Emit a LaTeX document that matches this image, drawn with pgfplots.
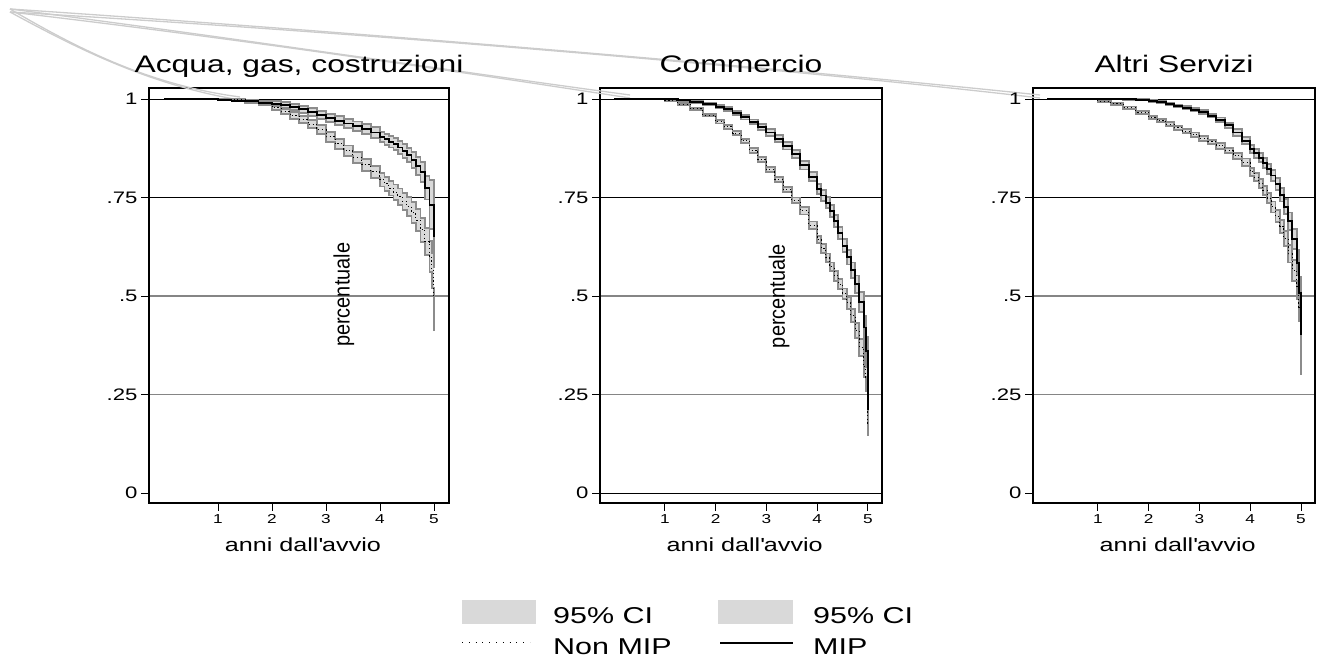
\documentclass[border=0pt]{standalone}
\usepackage{fontspec}
\setmainfont{Liberation Sans}[FakeStretch=1.33]
\newfontfamily\plainfont{Liberation Sans}
\usepackage{pgfplots}
\usepackage{pgfplotstable}
\pgfplotsset{compat=1.18}
\usepgfplotslibrary{fillbetween}

\definecolor{bandfill}{HTML}{D9D9D9}
\definecolor{bandline}{HTML}{8C8C8C}
\definecolor{gridgray}{HTML}{858585}
\definecolor{artline}{HTML}{CCCCCC}

% m = MIP, n = Non MIP; l/h = lower/upper 95% CI
\pgfplotstableread{
x m ml mh n nl nh
0 1 1 1 1 1 1
0.5 1 1 1 1 1 1
1 0.998 0.997 0.999 0.999 0.998 1
1.25 0.996 0.994 0.998 0.998 0.996 1
1.5 0.994 0.991 0.997 0.995 0.992 0.998
1.75 0.991 0.987 0.995 0.989 0.985 0.993
2 0.988 0.982 0.994 0.978 0.972 0.984
2.1667 0.985 0.978 0.992 0.968 0.961 0.975
2.3333 0.980 0.972 0.988 0.958 0.950 0.966
2.5 0.974 0.965 0.983 0.948 0.939 0.957
2.6667 0.967 0.957 0.977 0.936 0.926 0.946
2.8333 0.960 0.950 0.970 0.922 0.911 0.933
3 0.952 0.941 0.963 0.904 0.892 0.916
3.1667 0.945 0.933 0.957 0.886 0.873 0.899
3.3333 0.938 0.926 0.950 0.869 0.856 0.882
3.5 0.931 0.919 0.943 0.851 0.837 0.865
3.6667 0.924 0.911 0.937 0.833 0.818 0.848
3.8333 0.915 0.902 0.928 0.815 0.799 0.831
4 0.904 0.891 0.917 0.795 0.778 0.812
4.0833 0.898 0.884 0.912 0.785 0.767 0.803
4.1667 0.892 0.877 0.907 0.774 0.755 0.793
4.25 0.885 0.870 0.900 0.763 0.743 0.783
4.3333 0.877 0.861 0.893 0.752 0.731 0.773
4.4167 0.868 0.851 0.885 0.740 0.718 0.762
4.5 0.858 0.840 0.876 0.727 0.703 0.751
4.5833 0.846 0.826 0.866 0.712 0.686 0.738
4.6667 0.830 0.808 0.852 0.692 0.664 0.720
4.75 0.815 0.790 0.840 0.668 0.637 0.699
4.8333 0.775 0.745 0.805 0.638 0.603 0.673
4.9167 0.731 0.670 0.795 0.600 0.560 0.640
4.9583 0.731 0.670 0.795 0.566 0.520 0.610
5 0.650 0.600 0.700 0.500 0.410 0.570
}\acqua

\pgfplotstableread{
x m ml mh n nl nh
0 1 1 1 1 1 1
0.5 1 1 1 1 1 1
1 1 1 1 0.997 0.996 0.998
1.25 0.997 0.996 0.998 0.987 0.985 0.989
1.5 0.993 0.991 0.995 0.975 0.972 0.978
1.75 0.987 0.984 0.990 0.959 0.956 0.962
2 0.980 0.976 0.984 0.942 0.938 0.946
2.1667 0.974 0.969 0.979 0.929 0.924 0.934
2.3333 0.965 0.960 0.970 0.913 0.908 0.918
2.5 0.954 0.948 0.960 0.894 0.889 0.899
2.6667 0.942 0.936 0.948 0.870 0.864 0.876
2.8333 0.929 0.922 0.936 0.846 0.840 0.852
3 0.915 0.907 0.923 0.821 0.815 0.827
3.1667 0.899 0.890 0.908 0.796 0.789 0.803
3.3333 0.881 0.872 0.890 0.770 0.763 0.777
3.5 0.860 0.850 0.870 0.743 0.736 0.750
3.6667 0.832 0.821 0.843 0.716 0.707 0.725
3.8333 0.803 0.791 0.815 0.680 0.671 0.689
4 0.771 0.758 0.784 0.643 0.634 0.652
4.0833 0.755 0.742 0.768 0.620 0.609 0.631
4.1667 0.737 0.723 0.751 0.597 0.586 0.608
4.25 0.715 0.700 0.730 0.574 0.563 0.585
4.3333 0.690 0.675 0.705 0.551 0.538 0.564
4.4167 0.660 0.644 0.676 0.530 0.517 0.543
4.5 0.628 0.611 0.645 0.506 0.493 0.519
4.5833 0.598 0.580 0.616 0.483 0.468 0.498
4.6667 0.565 0.545 0.585 0.450 0.433 0.467
4.75 0.530 0.508 0.552 0.412 0.393 0.431
4.8333 0.485 0.460 0.510 0.370 0.348 0.392
4.9167 0.420 0.390 0.450 0.320 0.294 0.346
4.9583 0.360 0.325 0.395 0.290 0.260 0.320
5 0.210 0.160 0.270 0.170 0.145 0.220
}\commercio

\pgfplotstableread{
x m ml mh n nl nh
0 1 1 1 1 1 1
0.5 1 1 1 1 1 1
1 1 1 1 0.994 0.992 0.996
1.25 1 1 1 0.988 0.985 0.991
1.5 0.999 0.998 1 0.978 0.975 0.981
1.75 0.998 0.997 0.999 0.966 0.962 0.970
2 0.995 0.993 0.997 0.953 0.949 0.957
2.1667 0.992 0.990 0.994 0.945 0.941 0.949
2.3333 0.988 0.985 0.991 0.936 0.931 0.941
2.5 0.983 0.980 0.986 0.927 0.922 0.932
2.6667 0.978 0.974 0.982 0.918 0.913 0.923
2.8333 0.973 0.969 0.977 0.909 0.903 0.915
3 0.967 0.962 0.972 0.900 0.894 0.906
3.1667 0.958 0.953 0.963 0.891 0.885 0.897
3.3333 0.947 0.941 0.953 0.881 0.874 0.888
3.5 0.933 0.926 0.940 0.869 0.862 0.876
3.6667 0.915 0.907 0.923 0.856 0.848 0.864
3.8333 0.894 0.885 0.903 0.840 0.831 0.849
4 0.873 0.863 0.883 0.815 0.805 0.825
4.0833 0.862 0.851 0.873 0.802 0.791 0.813
4.1667 0.851 0.840 0.862 0.786 0.775 0.797
4.25 0.838 0.826 0.850 0.768 0.756 0.780
4.3333 0.823 0.810 0.836 0.748 0.735 0.761
4.4167 0.806 0.792 0.820 0.726 0.712 0.740
4.5 0.785 0.770 0.800 0.703 0.688 0.718
4.5833 0.757 0.740 0.774 0.677 0.660 0.694
4.6667 0.727 0.708 0.746 0.645 0.626 0.664
4.75 0.690 0.668 0.712 0.607 0.585 0.629
4.8333 0.645 0.619 0.671 0.565 0.539 0.591
4.9167 0.584 0.552 0.616 0.523 0.493 0.553
4.9583 0.508 0.468 0.548 0.472 0.436 0.508
5 0.400 0.300 0.470 0.440 0.400 0.490
}\servizi

\pgfplotsset{
  kmpanel/.style={
    scale only axis, height=415bp,
    xmin=-0.278, xmax=5.278, ymin=-0.0254, ymax=1.028,
    xtick={1,2,3,4,5}, xticklabels={1,2,3,4,5},
    ytick={0,0.25,0.5,0.75,1}, yticklabels={0,.25,.5,.75,1},
    minor ytick={0.25,0.5}, yminorgrids,
    minor grid style={gridgray, line width=1.2bp},
    minor tick length=0pt,
    extra y ticks={0.75,1}, extra y tick labels={},
    extra tick style={major grid style={black, line width=0.8bp}, ymajorgrids},
    tick align=outside, xtick pos=bottom, ytick pos=left,
    major tick length=8bp,
    tick style={black, line width=0.8bp},
    axis line style={line width=1.2bp},
    xticklabel style={font=\fontsize{13}{13}\selectfont},
    yticklabel style={font=\fontsize{16.7}{17}\selectfont},
    xlabel={anni dall\textquotesingle avvio},
    xlabel style={font=\fontsize{19}{19}\selectfont,
      at={(axis description cs:0.513,-0.118)}, anchor=base},
    title style={font=\fontsize{24}{24}\selectfont,
      at={(axis description cs:0.5,1)}, anchor=base, yshift=10bp},
  },
}

\newcommand{\kmcurves}[1]{%
  \addplot[const plot, draw=none, name path=nh, forget plot] table[x=x,y=nh] {#1};
  \addplot[const plot, draw=none, name path=nl, forget plot] table[x=x,y=nl] {#1};
  \addplot[fill=bandfill, draw=none, forget plot] fill between[of=nh and nl];
  \addplot[const plot, draw=none, name path=mh, forget plot] table[x=x,y=mh] {#1};
  \addplot[const plot, draw=none, name path=ml, forget plot] table[x=x,y=ml] {#1};
  \addplot[fill=bandfill, draw=none, forget plot] fill between[of=mh and ml];
  \addplot[const plot, bandline, line width=1.9bp] table[x=x,y=nh] {#1};
  \addplot[const plot, bandline, line width=1.9bp] table[x=x,y=nl] {#1};
  \addplot[const plot, bandline, line width=1.9bp] table[x=x,y=mh] {#1};
  \addplot[const plot, bandline, line width=1.9bp] table[x=x,y=ml] {#1};
  \addplot[const plot, black, line width=1bp, dash pattern=on 1.2bp off 2.5bp] table[x=x,y=n] {#1};
  \addplot[const plot, black, line width=1.9bp] table[x=x,y=m] {#1};
}

\begin{document}
\begin{tikzpicture}

% stray grey strokes of the source picture
\begin{scope}[artline, line width=1.3bp]
  \foreach \d in {0bp,3bp}{
    \draw ([yshift=\d]10bp,645bp) .. controls (400bp,622bp) and (800bp,587bp) .. ([yshift=\d]1040bp,559bp);
    \draw ([yshift=\d]10bp,645bp) .. controls (250bp,617bp) and (480bp,582bp) .. ([yshift=\d]630bp,559bp);
    \draw ([yshift=\d]10bp,645bp) .. controls (80bp,607bp) and (150bp,572bp) .. ([yshift=\d]240bp,557bp);
  }
\end{scope}

\begin{axis}[kmpanel, at={(149bp,154bp)}, anchor=south west, width=300bp,
  title={Acqua, gas, costruzioni}]
  \kmcurves{\acqua}
  \node[rotate=90, font=\plainfont\fontsize{20}{20}\selectfont] at (axis cs:3.33,0.503) {\scalebox{1}[1.12]{percentuale}};
\end{axis}

\begin{axis}[kmpanel, at={(600bp,154bp)}, anchor=south west, width=282bp,
  title={Commercio}, extra y ticks={0,0.75,1}]
  \kmcurves{\commercio}
  \node[rotate=90, font=\plainfont\fontsize{20}{20}\selectfont] at (axis cs:3.25,0.5) {\scalebox{1}[1.12]{percentuale}};
\end{axis}

\begin{axis}[kmpanel, at={(1033bp,154bp)}, anchor=south west, width=282bp,
  title={Altri Servizi}]
  \kmcurves{\servizi}
\end{axis}

% legend
\fill[bandfill] (462bp,33bp) rectangle (536bp,57bp);
\fill[bandfill] (718bp,33bp) rectangle (793bp,57bp);
\draw[black, line width=1bp, dash pattern=on 1bp off 5.8bp] (462bp,14bp) -- (530bp,14bp);
\draw[black, line width=1.6bp] (720bp,14bp) -- (793bp,14bp);
\begin{scope}[every node/.style={anchor=base west, inner sep=0pt, font=\fontsize{23}{23}\selectfont}]
  \node at (553bp,34bp) {95\% CI};
  \node at (813bp,34bp) {95\% CI};
  \node at (553bp,2.5bp) {Non MIP};
  \node at (813bp,2.5bp) {MIP};
\end{scope}

\pgfresetboundingbox
\useasboundingbox (0,0) rectangle (1319bp,657bp);
\end{tikzpicture}
\end{document}
